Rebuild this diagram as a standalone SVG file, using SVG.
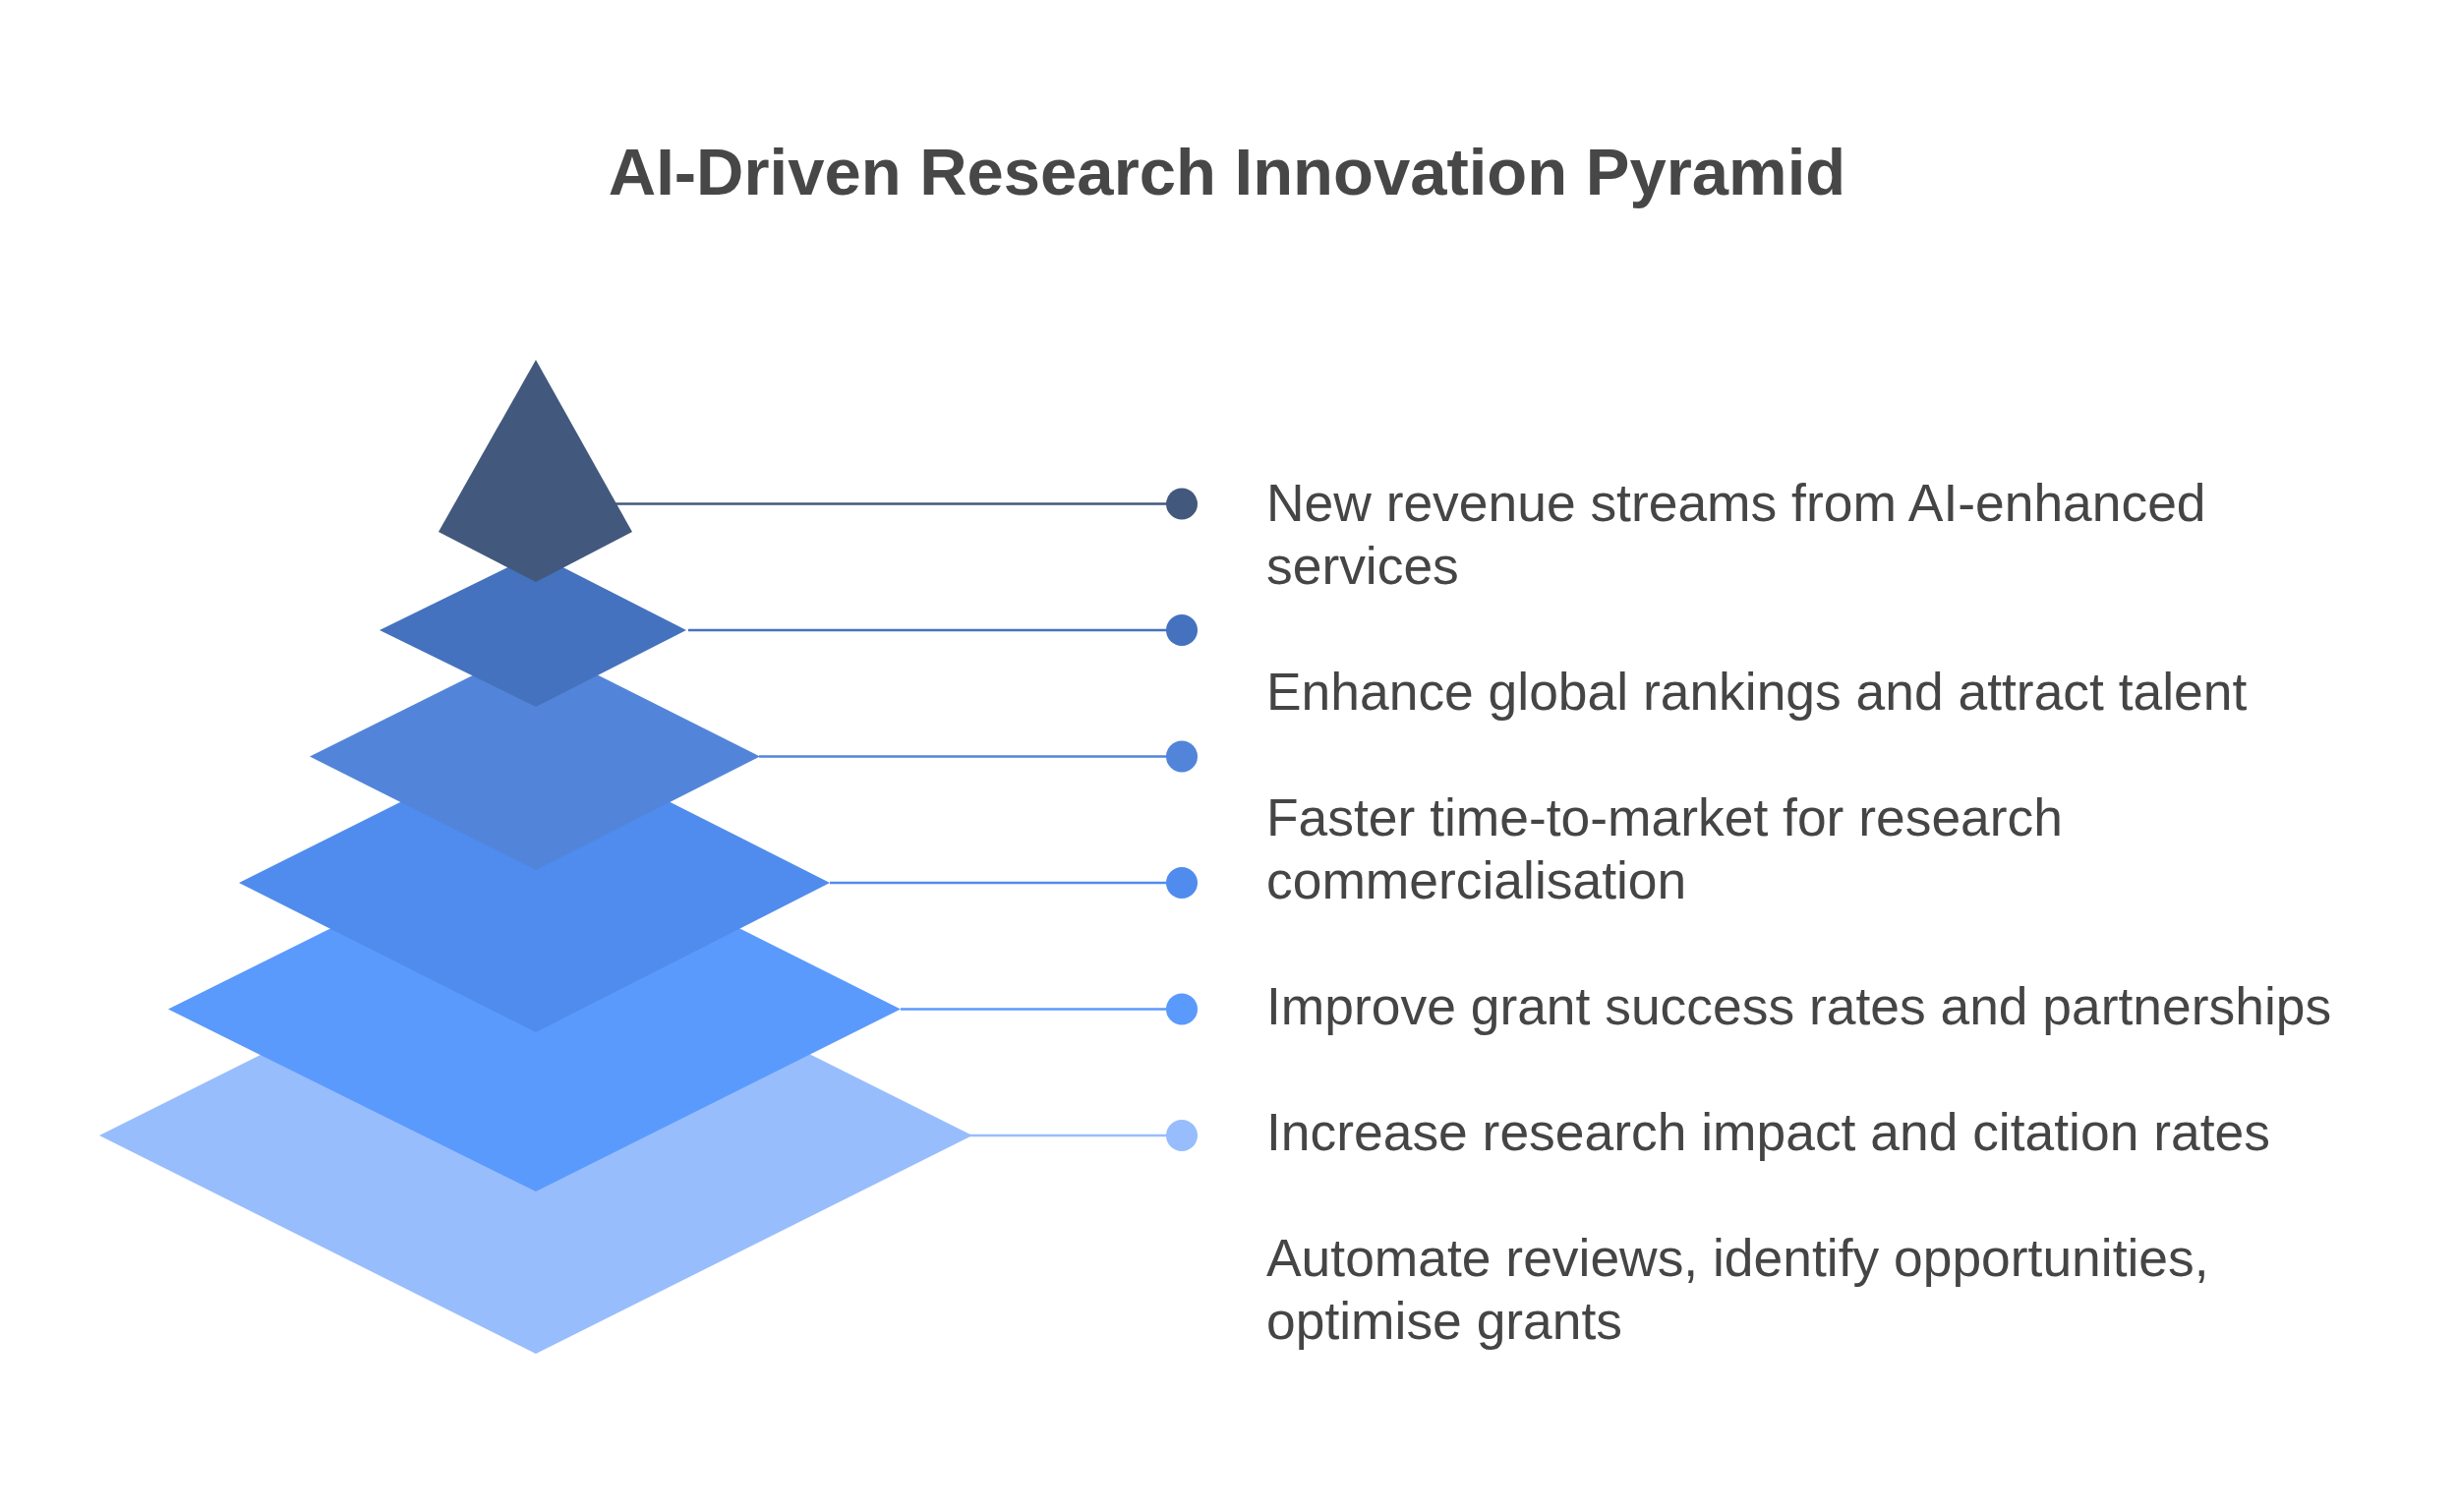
<svg xmlns="http://www.w3.org/2000/svg" width="2500" height="1538" viewBox="0 0 2500 1538">
<style>
.title{font-family:"Liberation Sans",Arial,sans-serif;font-weight:bold;font-size:67px;fill:#474747}
.lbl{font-family:"Liberation Sans",Arial,sans-serif;font-size:53.4px;fill:#454545}
.ln{stroke-width:2.5;fill:none}
</style>
<rect width="2500" height="1538" fill="#ffffff"/>
<text class="title" x="1248" y="198" text-anchor="middle">AI-Driven Research Innovation Pyramid</text>
<g id="connectors">
<line class="ln" x1="545" y1="512.5" x2="1202" y2="512.5" stroke="#42597D"/>
<circle cx="1202" cy="512.5" r="16" fill="#42597D"/>
<line class="ln" x1="700" y1="641" x2="1202" y2="641" stroke="#4472BF"/>
<circle cx="1202" cy="641" r="16" fill="#4472BF"/>
<line class="ln" x1="772" y1="769.5" x2="1202" y2="769.5" stroke="#5285D9"/>
<circle cx="1202" cy="769.5" r="16" fill="#5285D9"/>
<line class="ln" x1="844" y1="898" x2="1202" y2="898" stroke="#508CEE"/>
<circle cx="1202" cy="898" r="16" fill="#508CEE"/>
<line class="ln" x1="916" y1="1026.5" x2="1202" y2="1026.5" stroke="#5B9AFD"/>
<circle cx="1202" cy="1026.5" r="16" fill="#5B9AFD"/>
<line class="ln" x1="986" y1="1155" x2="1202" y2="1155" stroke="#98BDFD"/>
<circle cx="1202" cy="1155" r="16" fill="#98BDFD"/>
</g>
<g id="layer6"><polygon points="101,1155 545,933 989,1155 545,1377" fill="#98BDFD"/></g>
<g id="layer5"><polygon points="171,1026.5 545,840.5 916,1026.5 545,1212" fill="#5B9AFD"/></g>
<g id="layer4"><polygon points="243,898 545,747 844,898 545,1050" fill="#508CEE"/></g>
<g id="layer3"><polygon points="315,769.5 545,655 773,769.5 545,885" fill="#5285D9"/></g>
<g id="layer2"><polygon points="386,641 545,563 698,641 545,719" fill="#4472BF"/></g>
<g id="layer1"><polygon points="545,366 643,541 545,592 446,541" fill="#42597D"/></g>
<g id="labels">
<text class="lbl" x="1288" y="530">New revenue streams from AI-enhanced</text>
<text class="lbl" x="1288" y="594">services</text>
<text class="lbl" x="1288" y="722">Enhance global rankings and attract talent</text>
<text class="lbl" x="1288" y="850">Faster time-to-market for research</text>
<text class="lbl" x="1288" y="914">commercialisation</text>
<text class="lbl" x="1288" y="1042">Improve grant success rates and partnerships</text>
<text class="lbl" x="1288" y="1170">Increase research impact and citation rates</text>
<text class="lbl" x="1288" y="1298">Automate reviews, identify opportunities,</text>
<text class="lbl" x="1288" y="1362">optimise grants</text>
</g>
</svg>
